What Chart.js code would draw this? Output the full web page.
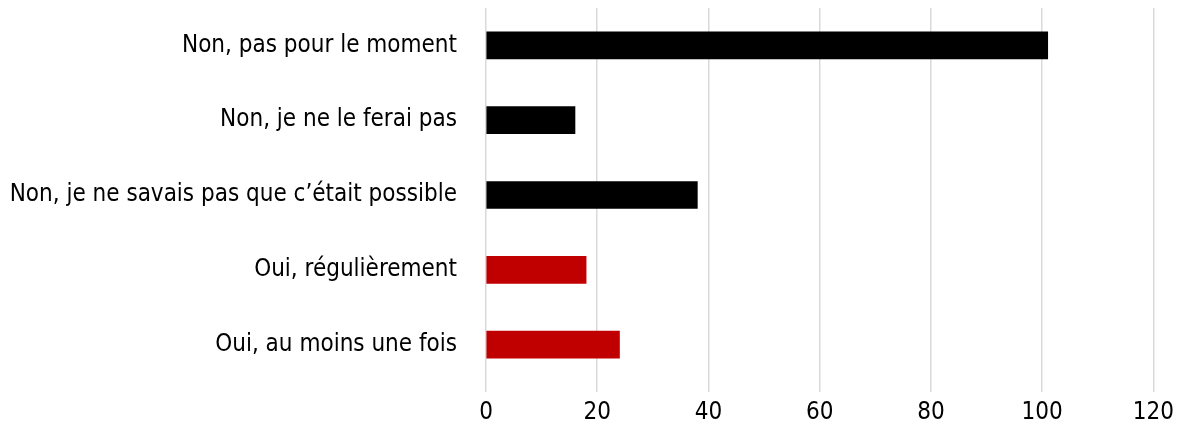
<!DOCTYPE html>
<html lang="fr">
<head>
    <meta charset="UTF-8">
    <title>Réponses</title>
    <script src="https://cdn.jsdelivr.net/npm/chart.js"></script>
    <style>
        html, body { margin: 0; padding: 0; background: #fff; }
        #wrap { width: 1180px; height: 427px; }
    </style>
</head>
<body>
    <div id="wrap"><canvas id="chart" width="1180" height="427"></canvas></div>
    <script>
        const categories = [
            'Non, pas pour le moment',
            'Non, je ne le ferai pas',
            'Non, je ne savais pas que c\u2019était possible',
            'Oui, régulièrement',
            'Oui, au moins une fois'
        ];
        const values = [101, 16, 38, 18, 24];
        const barColors = ['#000000', '#000000', '#000000', '#c00000', '#c00000'];
        const xTicks = [0, 20, 40, 60, 80, 100, 120];

        const font = "'Liberation Sans Narrow', 'DejaVu Sans Condensed', 'Roboto', sans-serif";

        const ctx = document.getElementById('chart').getContext('2d');
        new Chart(ctx, {
            type: 'bar',
            data: {
                labels: categories,
                datasets: [{
                    data: values,
                    backgroundColor: barColors,
                    barThickness: 27
                }]
            },
            options: {
                indexAxis: 'y',
                responsive: false,
                animation: false,
                layout: { padding: { top: 8, right: 23, left: 0, bottom: 0 } },
                plugins: { legend: { display: false }, tooltip: { enabled: false } },
                scales: {
                    x: {
                        min: 0,
                        max: 120,
                        afterBuildTicks: s => { s.ticks = xTicks.map(v => ({ value: v })); },
                        grid: { color: '#d9d9d9', lineWidth: 1.5, drawTicks: true, tickLength: 10 },
                        border: { display: false },
                        ticks: { color: '#000', font: { family: font, size: 24 }, padding: 6 },
                        afterFit: s => { s.height = 45; }
                    },
                    y: {
                        grid: { display: false, drawTicks: false },
                        border: { display: false },
                        ticks: { color: '#000', font: { family: font, size: 24 }, padding: 29 },
                        afterFit: s => {
                            s.width = 486;
                            s.paddingTop = 0;
                            s.paddingBottom = 0;
                        }
                    }
                }
            }
        });
    </script>
</body>
</html>
